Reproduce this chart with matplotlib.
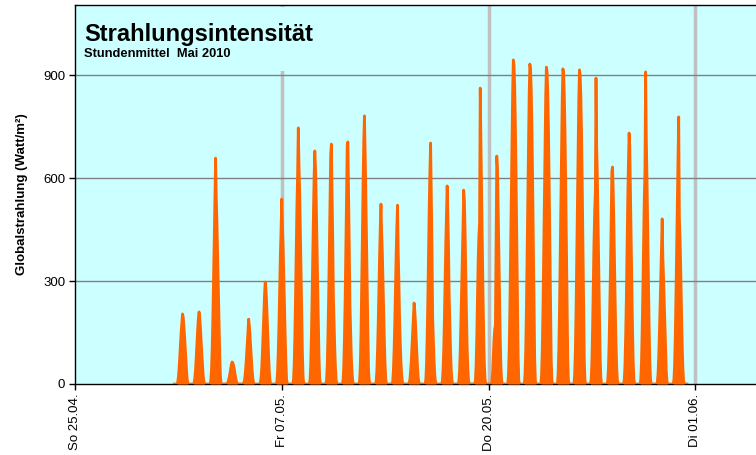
import matplotlib
matplotlib.use("Agg")
import matplotlib.pyplot as plt
import numpy as np
from matplotlib.patches import Rectangle

# hourly means (W/m2) for hours 04..20 of each day in May 2010
first_hour = 4
days = [
    [0, 5, 20, 45, 80, 115, 150, 178, 204, 195, 170, 140, 105, 70, 35, 10, 0],
    [0, 5, 20, 45, 80, 120, 160, 192, 210, 195, 165, 125, 90, 55, 25, 8, 0],
    [0, 10, 40, 100, 190, 300, 420, 540, 658, 542, 470, 380, 280, 180, 90, 25, 0],
    [0, 2, 6, 12, 22, 34, 46, 58, 64, 62, 55, 45, 32, 20, 10, 3, 0],
    [0, 3, 12, 30, 55, 85, 120, 160, 189, 170, 140, 105, 70, 40, 18, 5, 0],
    [0, 5, 20, 50, 95, 150, 210, 260, 297, 280, 240, 185, 130, 80, 35, 10, 0],
    [0, 8, 40, 100, 180, 280, 380, 451, 539, 460, 400, 320, 230, 140, 65, 15, 0],
    [0, 12, 55, 140, 260, 400, 520, 612, 746, 640, 560, 450, 330, 200, 90, 20, 0],
    [0, 12, 55, 140, 250, 380, 500, 610, 679, 630, 540, 430, 310, 190, 85, 20, 0],
    [0, 12, 55, 140, 250, 390, 530, 667, 699, 560, 420, 250, 170, 100, 45, 12, 0],
    [0, 12, 55, 140, 250, 400, 550, 696, 705, 560, 400, 227, 150, 80, 35, 10, 0],
    [0, 12, 55, 150, 280, 430, 590, 710, 781, 680, 560, 420, 280, 150, 38, 10, 0],
    [0, 8, 40, 100, 180, 280, 380, 460, 524, 440, 380, 290, 200, 120, 55, 12, 0],
    [0, 8, 40, 100, 180, 280, 380, 460, 521, 385, 300, 189, 120, 65, 28, 8, 0],
    [0, 4, 15, 40, 70, 110, 155, 195, 236, 215, 180, 135, 90, 50, 20, 5, 0],
    [0, 12, 55, 140, 250, 390, 520, 623, 702, 560, 400, 192, 130, 70, 30, 8, 0],
    [0, 8, 40, 100, 190, 300, 410, 500, 577, 498, 400, 253, 170, 95, 40, 10, 0],
    [0, 8, 40, 100, 190, 290, 380, 457, 565, 536, 450, 330, 210, 110, 45, 12, 0],
    [0, 12, 55, 140, 250, 360, 430, 469, 862, 700, 560, 410, 270, 150, 60, 15, 0],
    [0, 8, 35, 80, 130, 160, 172, 400, 664, 629, 520, 390, 260, 140, 55, 12, 0],
    [0, 30, 100, 220, 380, 560, 720, 850, 944, 930, 870, 760, 610, 430, 240, 80, 10],
    [0, 30, 100, 220, 380, 555, 715, 845, 932, 918, 860, 750, 600, 425, 235, 78, 10],
    [0, 28, 98, 215, 375, 550, 710, 840, 923, 910, 850, 745, 595, 420, 230, 75, 10],
    [0, 28, 98, 215, 375, 550, 710, 835, 918, 905, 845, 740, 590, 415, 228, 75, 10],
    [0, 28, 96, 212, 370, 545, 705, 830, 915, 900, 840, 735, 585, 410, 225, 72, 10],
    [0, 15, 65, 160, 280, 410, 500, 559, 891, 690, 600, 470, 330, 190, 80, 20, 0],
    [0, 10, 45, 120, 227, 340, 480, 620, 632, 560, 460, 340, 220, 120, 50, 12, 0],
    [0, 12, 55, 140, 250, 390, 530, 640, 731, 690, 560, 428, 290, 160, 65, 15, 0],
    [0, 15, 65, 160, 280, 420, 540, 623, 909, 714, 600, 460, 320, 180, 75, 18, 0],
    [0, 6, 30, 80, 150, 230, 310, 390, 481, 370, 310, 240, 160, 90, 38, 8, 0],
    [0, 12, 55, 140, 260, 400, 540, 660, 778, 483, 420, 330, 220, 120, 50, 12, 0],
]
first_day = 6  # 01.05. counted in days from 25.04.

tick_pos = [0, 12.5, 25, 37.5]
tick_labels = ["So 25.04.", "Fr 07.05.", "Do 20.05.", "Di 01.06."]
y_ticks = [0, 300, 600, 900]

plt.rcParams['font.family'] = ['Liberation Sans', 'DejaVu Sans']

values = np.zeros(len(days) * 24 + 1)
for i, day in enumerate(days):
    start = i * 24 + first_hour
    values[start:start + len(day)] = day
x = first_day + np.arange(len(values)) / 24.0

fig = plt.figure(figsize=(7.56, 4.55), dpi=100)
ax = fig.add_axes([75 / 756, 71 / 455, 681 / 756, 379 / 455])
ax.set_facecolor('#CCFFFF')

for p in tick_pos[1:]:
    ax.axvline(p, color='#C0C0C0', lw=2.5, zorder=1)
for v in y_ticks[1:]:
    ax.axhline(v, color='#808080', lw=1, zorder=1)

# title box hides the grid behind the heading
fig.patches.append(Rectangle((77 / 756, 1 - 71 / 455), 250 / 756, 64 / 455,
                             transform=fig.transFigure, facecolor='#CCFFFF',
                             edgecolor='none', zorder=2))

ax.fill_between(x, values, color='#FF6600', lw=0, zorder=3)
ax.plot(x, values, color='#FF6600', lw=2, zorder=3)

ax.set_xlim(0, 681 / 16.54)
ax.set_ylim(0, 1104)
ax.set_xticks(tick_pos)
ax.set_xticklabels(tick_labels, rotation=90, fontsize=9.5)
ax.set_yticks(y_ticks)
ax.set_yticklabels([str(v) for v in y_ticks], fontsize=9.5)
ax.tick_params(length=4, width=1, color='black', pad=3)
ax.spines['right'].set_visible(False)
for s in ['left', 'bottom', 'top']:
    ax.spines[s].set_linewidth(1)
ax.set_ylabel("Globalstrahlung (Watt/m²)", fontsize=9.5, fontweight='bold')
ax.yaxis.set_label_coords(-47 / 681, 0.5)

fig.text(84 / 756, 1 - 41 / 455, "Strahlungsintensität", fontsize=17,
         fontweight='bold', va='baseline', zorder=5)
fig.text(84 / 756, 1 - 57 / 455, "Stundenmittel  Mai 2010", fontsize=9.3,
         fontweight='bold', va='baseline', zorder=5)

fig.savefig("out.png", dpi=100)
